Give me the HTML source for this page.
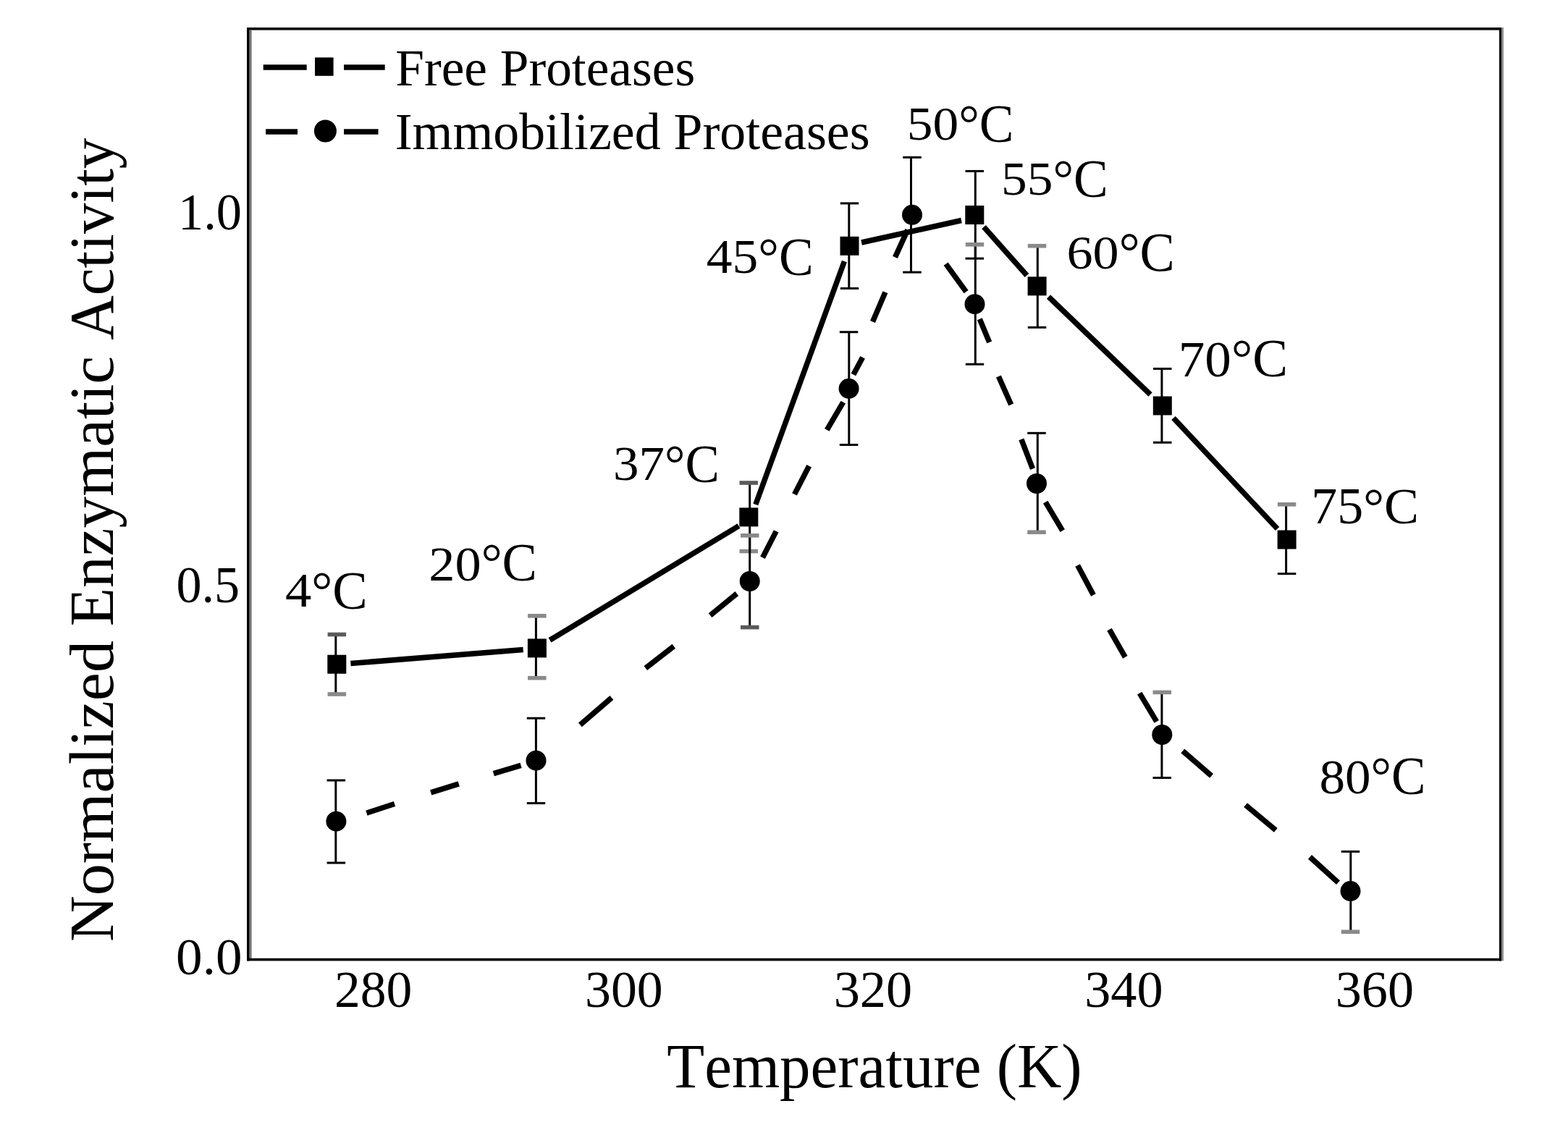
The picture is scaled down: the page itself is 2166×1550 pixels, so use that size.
<!DOCTYPE html>
<html><head><meta charset="utf-8"><title>Normalized Enzymatic Activity vs Temperature</title>
<style>
html,body{margin:0;padding:0;background:#fff;}
body{width:2166px;height:1550px;overflow:hidden;}
svg{display:block;}
text{font-family:'Liberation Serif','Times New Roman',serif;fill:#000;font-kerning:none;}
</style></head>
<body>
<svg width="2166" height="1550" viewBox="0 0 2166 1550">
<rect width="2166" height="1550" fill="#fff"/>
<rect x="341" y="38" width="1733" height="3.6" fill="#000"/>
<rect x="341" y="38" width="3.7" height="1289.4" fill="#000"/>
<rect x="344.7" y="41.6" width="2.9" height="1282.4" fill="#777"/>
<rect x="2071" y="38" width="3" height="1289.4" fill="#000"/>
<rect x="2074" y="38" width="2.9" height="1289.4" fill="#888"/>
<rect x="341" y="1323.8" width="1733" height="3.6" fill="#000"/>
<line x1="484.4" y1="916.5" x2="722.7" y2="897.5" stroke="#000" stroke-width="7.5"/>
<line x1="759.5" y1="884.3" x2="1020.5" y2="726.5" stroke="#000" stroke-width="7.5"/>
<line x1="1043.8" y1="697.0" x2="1166.4" y2="361.0" stroke="#000" stroke-width="7.5"/>
<line x1="1190.1" y1="335.0" x2="1328.0" y2="304.5" stroke="#000" stroke-width="7.5"/>
<line x1="1359.0" y1="313.5" x2="1418.5" y2="380.5" stroke="#000" stroke-width="7.5"/>
<line x1="1448.5" y1="410.0" x2="1589.0" y2="545.0" stroke="#000" stroke-width="7.5"/>
<line x1="1621.0" y1="577.5" x2="1764.5" y2="730.5" stroke="#000" stroke-width="7.5"/>
<line x1="506.4" y1="1123.2" x2="545.0" y2="1110.5" stroke="#000" stroke-width="7.5"/>
<line x1="595.2" y1="1094.8" x2="633.8" y2="1082.9" stroke="#000" stroke-width="7.5"/>
<line x1="681.8" y1="1068.7" x2="719.6" y2="1057.4" stroke="#000" stroke-width="7.5"/>
<line x1="801.4" y1="1001.4" x2="844.9" y2="963.8" stroke="#000" stroke-width="7.5"/>
<line x1="891.8" y1="923.0" x2="930.8" y2="892.8" stroke="#000" stroke-width="7.5"/>
<line x1="981.1" y1="850.2" x2="1017.9" y2="820.0" stroke="#000" stroke-width="7.5"/>
<line x1="1053.5" y1="770.2" x2="1072.2" y2="733.9" stroke="#000" stroke-width="7.5"/>
<line x1="1097.5" y1="682.9" x2="1117.6" y2="643.8" stroke="#000" stroke-width="7.5"/>
<line x1="1142.3" y1="593.9" x2="1164.8" y2="555.7" stroke="#000" stroke-width="7.5"/>
<line x1="1178.9" y1="517.5" x2="1191.6" y2="493.8" stroke="#000" stroke-width="7.5"/>
<line x1="1205.5" y1="444.5" x2="1222.9" y2="403.6" stroke="#000" stroke-width="7.5"/>
<line x1="1236.5" y1="355.4" x2="1253.8" y2="317.5" stroke="#000" stroke-width="7.5"/>
<line x1="1306.6" y1="364.6" x2="1334.6" y2="403.1" stroke="#000" stroke-width="7.5"/>
<line x1="1353.3" y1="440.7" x2="1366.7" y2="472.9" stroke="#000" stroke-width="7.5"/>
<line x1="1379.4" y1="520.0" x2="1396.7" y2="559.0" stroke="#000" stroke-width="7.5"/>
<line x1="1410.9" y1="606.8" x2="1426.5" y2="647.7" stroke="#000" stroke-width="7.5"/>
<line x1="1444.2" y1="693.7" x2="1467.7" y2="733.1" stroke="#000" stroke-width="7.5"/>
<line x1="1488.6" y1="780.9" x2="1510.4" y2="822.0" stroke="#000" stroke-width="7.5"/>
<line x1="1532.5" y1="869.6" x2="1554.3" y2="907.8" stroke="#000" stroke-width="7.5"/>
<line x1="1574.2" y1="957.6" x2="1597.7" y2="996.9" stroke="#000" stroke-width="7.5"/>
<line x1="1633.8" y1="1037.4" x2="1673.6" y2="1071.9" stroke="#000" stroke-width="7.5"/>
<line x1="1720.6" y1="1112.2" x2="1762.3" y2="1146.8" stroke="#000" stroke-width="7.5"/>
<line x1="1809.5" y1="1183.9" x2="1848.5" y2="1219.3" stroke="#000" stroke-width="7.5"/>
<line x1="463.8" y1="876.5" x2="463.8" y2="959.0" stroke="#000" stroke-width="3.0"/>
<line x1="452.6" y1="876.5" x2="478.1" y2="876.5" stroke="#5a5a5a" stroke-width="5.6"/>
<line x1="452.6" y1="959.0" x2="478.1" y2="959.0" stroke="#8a8a8a" stroke-width="5.6"/>
<line x1="740.4" y1="850.8" x2="740.4" y2="936.6" stroke="#000" stroke-width="3.0"/>
<line x1="729.1" y1="850.8" x2="754.6" y2="850.8" stroke="#8a8a8a" stroke-width="5.6"/>
<line x1="729.1" y1="936.6" x2="754.6" y2="936.6" stroke="#8a8a8a" stroke-width="5.6"/>
<line x1="1035.7" y1="667.0" x2="1035.7" y2="761.5" stroke="#000" stroke-width="3.0"/>
<line x1="1021.5" y1="667.0" x2="1047.0" y2="667.0" stroke="#5a5a5a" stroke-width="5.6"/>
<line x1="1021.5" y1="761.5" x2="1047.0" y2="761.5" stroke="#8a8a8a" stroke-width="5.6"/>
<line x1="1172.8" y1="280.9" x2="1172.8" y2="398.4" stroke="#000" stroke-width="3.0"/>
<line x1="1160.8" y1="280.9" x2="1186.2" y2="280.9" stroke="#000" stroke-width="3.0"/>
<line x1="1160.8" y1="398.4" x2="1186.2" y2="398.4" stroke="#000" stroke-width="3.0"/>
<line x1="1347.3" y1="236.4" x2="1347.3" y2="357.1" stroke="#000" stroke-width="3.0"/>
<line x1="1333.5" y1="236.4" x2="1359.0" y2="236.4" stroke="#000" stroke-width="3.0"/>
<line x1="1333.5" y1="357.1" x2="1359.0" y2="357.1" stroke="#000" stroke-width="3.0"/>
<line x1="1433.3" y1="339.7" x2="1433.3" y2="452.3" stroke="#000" stroke-width="3.0"/>
<line x1="1419.8" y1="339.7" x2="1445.3" y2="339.7" stroke="#8a8a8a" stroke-width="5.6"/>
<line x1="1419.8" y1="452.3" x2="1445.3" y2="452.3" stroke="#000" stroke-width="3.0"/>
<line x1="1604.9" y1="509.4" x2="1604.9" y2="611.3" stroke="#000" stroke-width="3.0"/>
<line x1="1593.0" y1="509.4" x2="1618.5" y2="509.4" stroke="#000" stroke-width="3.0"/>
<line x1="1593.0" y1="611.3" x2="1618.5" y2="611.3" stroke="#000" stroke-width="3.0"/>
<line x1="1776.6" y1="696.8" x2="1776.6" y2="792.6" stroke="#000" stroke-width="3.0"/>
<line x1="1764.8" y1="696.8" x2="1790.3" y2="696.8" stroke="#8a8a8a" stroke-width="5.6"/>
<line x1="1764.8" y1="792.6" x2="1790.3" y2="792.6" stroke="#000" stroke-width="3.0"/>
<line x1="463.8" y1="1078.0" x2="463.8" y2="1192.0" stroke="#000" stroke-width="3.0"/>
<line x1="451.6" y1="1078.0" x2="477.1" y2="1078.0" stroke="#000" stroke-width="3.0"/>
<line x1="451.6" y1="1192.0" x2="477.1" y2="1192.0" stroke="#000" stroke-width="3.0"/>
<line x1="740.4" y1="992.2" x2="740.4" y2="1109.6" stroke="#000" stroke-width="3.0"/>
<line x1="727.8" y1="992.2" x2="753.2" y2="992.2" stroke="#000" stroke-width="3.0"/>
<line x1="727.8" y1="1109.6" x2="753.2" y2="1109.6" stroke="#000" stroke-width="3.0"/>
<line x1="1035.7" y1="739.8" x2="1035.7" y2="866.6" stroke="#000" stroke-width="3.0"/>
<line x1="1023.0" y1="739.8" x2="1048.5" y2="739.8" stroke="#8a8a8a" stroke-width="5.6"/>
<line x1="1023.0" y1="866.6" x2="1048.5" y2="866.6" stroke="#5a5a5a" stroke-width="5.6"/>
<line x1="1172.8" y1="458.7" x2="1172.8" y2="614.5" stroke="#000" stroke-width="3.0"/>
<line x1="1159.8" y1="458.7" x2="1185.3" y2="458.7" stroke="#000" stroke-width="3.0"/>
<line x1="1159.8" y1="614.5" x2="1185.3" y2="614.5" stroke="#000" stroke-width="3.0"/>
<line x1="1258.5" y1="217.4" x2="1258.5" y2="376.1" stroke="#000" stroke-width="3.0"/>
<line x1="1247.2" y1="217.4" x2="1272.8" y2="217.4" stroke="#000" stroke-width="3.0"/>
<line x1="1247.2" y1="376.1" x2="1272.8" y2="376.1" stroke="#000" stroke-width="3.0"/>
<line x1="1347.3" y1="337.8" x2="1347.3" y2="503.2" stroke="#000" stroke-width="3.0"/>
<line x1="1333.8" y1="337.8" x2="1359.2" y2="337.8" stroke="#8a8a8a" stroke-width="5.6"/>
<line x1="1333.8" y1="503.2" x2="1359.2" y2="503.2" stroke="#000" stroke-width="3.0"/>
<line x1="1433.3" y1="598.3" x2="1433.3" y2="735.2" stroke="#000" stroke-width="3.0"/>
<line x1="1419.2" y1="598.3" x2="1444.8" y2="598.3" stroke="#000" stroke-width="3.0"/>
<line x1="1419.2" y1="735.2" x2="1444.8" y2="735.2" stroke="#8a8a8a" stroke-width="5.6"/>
<line x1="1604.9" y1="956.4" x2="1604.9" y2="1074.5" stroke="#000" stroke-width="3.0"/>
<line x1="1592.5" y1="956.4" x2="1618.0" y2="956.4" stroke="#8a8a8a" stroke-width="5.6"/>
<line x1="1592.5" y1="1074.5" x2="1618.0" y2="1074.5" stroke="#000" stroke-width="3.0"/>
<line x1="1865.8" y1="1176.4" x2="1865.8" y2="1287.3" stroke="#000" stroke-width="3.0"/>
<line x1="1852.8" y1="1176.4" x2="1878.2" y2="1176.4" stroke="#000" stroke-width="3.0"/>
<line x1="1852.8" y1="1287.3" x2="1878.2" y2="1287.3" stroke="#8a8a8a" stroke-width="5.6"/>
<rect x="452.3" y="904.7" width="26" height="26" fill="#000"/>
<rect x="728.9" y="882.4" width="26" height="26" fill="#000"/>
<rect x="1021.3" y="701.4" width="26" height="26" fill="#000"/>
<rect x="1160.5" y="326.8" width="26" height="26" fill="#000"/>
<rect x="1333.3" y="284.0" width="26" height="26" fill="#000"/>
<rect x="1419.6" y="382.3" width="26" height="26" fill="#000"/>
<rect x="1592.8" y="547.5" width="26" height="26" fill="#000"/>
<rect x="1764.6" y="732.5" width="26" height="26" fill="#000"/>
<circle cx="464.4" cy="1134.7" r="14" fill="#000"/>
<circle cx="740.5" cy="1050.7" r="14" fill="#000"/>
<circle cx="1035.7" cy="803.0" r="14" fill="#000"/>
<circle cx="1172.6" cy="536.8" r="14" fill="#000"/>
<circle cx="1260.0" cy="296.8" r="14" fill="#000"/>
<circle cx="1346.5" cy="420.2" r="14" fill="#000"/>
<circle cx="1432.0" cy="668.0" r="14" fill="#000"/>
<circle cx="1605.3" cy="1015.0" r="14" fill="#000"/>
<circle cx="1865.5" cy="1231.1" r="14" fill="#000"/>
<line x1="363.7" y1="93" x2="423.7" y2="93" stroke="#000" stroke-width="7.5"/>
<rect x="435" y="79.4" width="25.6" height="25.4" fill="#000"/>
<line x1="475" y1="93" x2="531.7" y2="93" stroke="#000" stroke-width="7.5"/>
<line x1="367.1" y1="182" x2="411" y2="182" stroke="#000" stroke-width="7.5"/>
<circle cx="449.4" cy="181" r="15.5" fill="#000"/>
<line x1="475" y1="182" x2="522.5" y2="182" stroke="#000" stroke-width="7.5"/>
<text transform="translate(546.25 117.60) scale(0.9975 1)" font-size="71.5">Free Proteases</text>
<text transform="translate(545.71 205.70) scale(1.0042 1)" font-size="71.5">Immobilized Proteases</text>
<text transform="translate(246.01 317.30) scale(0.9855 1)" font-size="71.5">1.0</text>
<text transform="translate(243.43 831.50) scale(0.9814 1)" font-size="71.5">0.5</text>
<text transform="translate(243.12 1345.50) scale(1.0223 1)" font-size="71.5">0.0</text>
<text transform="translate(461.95 1390.50) scale(1.0011 1)" font-size="71.5">280</text>
<text transform="translate(807.96 1390.50) scale(1.0049 1)" font-size="71.5">300</text>
<text transform="translate(1151.64 1390.50) scale(1.0118 1)" font-size="71.5">320</text>
<text transform="translate(1498.14 1390.50) scale(1.0108 1)" font-size="71.5">340</text>
<text transform="translate(1844.64 1390.50) scale(1.0108 1)" font-size="71.5">360</text>
<text transform="translate(393.98 838.20) scale(1.0151 0.9392)" font-size="71.5">4</text>
<text transform="translate(430.27 840.67) scale(1.0151 1.0467)" font-size="71.5">°C</text>
<text transform="translate(592.22 801.63) scale(1.0128 0.9575)" font-size="71.5">20</text>
<text transform="translate(664.63 802.48) scale(1.0128 1.0363)" font-size="71.5">°C</text>
<text transform="translate(847.00 663.05) scale(0.9935 0.9367)" font-size="71.5">37</text>
<text transform="translate(918.03 665.77) scale(0.9935 1.0404)" font-size="71.5">°C</text>
<text transform="translate(975.70 377.25) scale(1.0011 0.9380)" font-size="71.5">45</text>
<text transform="translate(1047.28 379.87) scale(1.0011 1.0467)" font-size="71.5">°C</text>
<text transform="translate(1252.75 193.05) scale(0.9994 0.9265)" font-size="71.5">50</text>
<text transform="translate(1324.21 196.07) scale(0.9994 1.0487)" font-size="71.5">°C</text>
<text transform="translate(1382.95 268.56) scale(0.9994 0.9176)" font-size="71.5">55</text>
<text transform="translate(1454.41 271.97) scale(0.9994 1.0487)" font-size="71.5">°C</text>
<text transform="translate(1473.50 370.86) scale(1.0102 0.9223)" font-size="71.5">60</text>
<text transform="translate(1545.72 373.97) scale(1.0102 1.0508)" font-size="71.5">°C</text>
<text transform="translate(1627.78 520.01) scale(1.0228 0.9866)" font-size="71.5">70</text>
<text transform="translate(1700.91 519.97) scale(1.0228 1.0487)" font-size="71.5">°C</text>
<text transform="translate(1811.36 723.10) scale(1.0063 1.0039)" font-size="71.5">75</text>
<text transform="translate(1883.31 723.11) scale(1.0063 0.9886)" font-size="71.5">°C</text>
<text transform="translate(1822.49 1096.44) scale(0.9942 0.9430)" font-size="71.5">80</text>
<text transform="translate(1893.58 1097.38) scale(0.9942 1.0363)" font-size="71.5">°C</text>
<text transform="translate(921.36 1501.60) scale(0.9883 1)" font-size="86">Temperature (K)</text>
<text transform="translate(155.90 1300.94) rotate(-90) scale(1.0130 1)" font-size="87">Normalized</text>
<text transform="translate(155.90 865.32) rotate(-90) scale(1.0046 1)" font-size="87">Enzymatic</text>
<text transform="translate(155.90 469.83) rotate(-90) scale(0.9798 1)" font-size="87">Activity</text>
</svg>
</body></html>
